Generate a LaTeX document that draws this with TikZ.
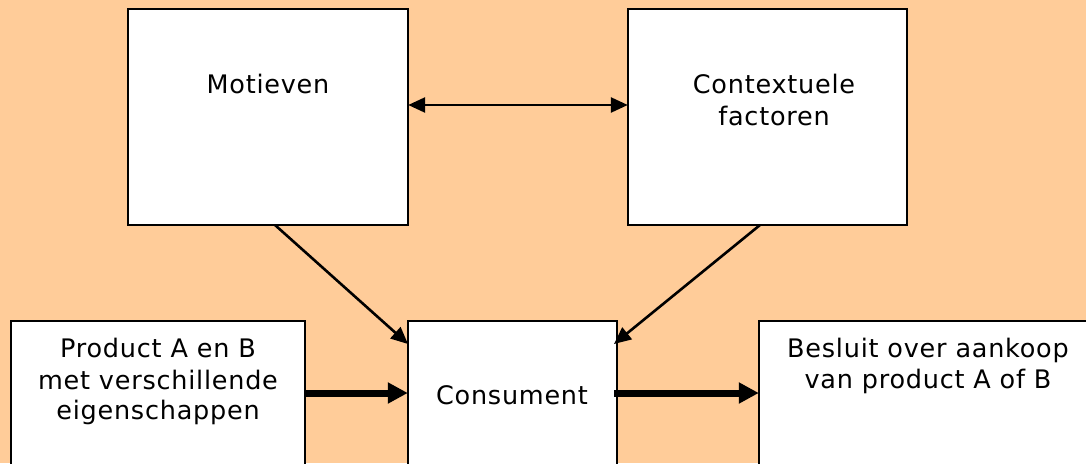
\documentclass[tikz,border=0pt]{standalone}
\usepackage{fontspec}
\setmainfont{DejaVu Sans}[LetterSpace=3]
\usetikzlibrary{arrows.meta}
\definecolor{peach}{HTML}{FFCC99}
\begin{document}
\begin{tikzpicture}[x=1pt,y=-1pt,
  box/.style={draw=black,fill=white,line width=2.6pt},
  lbl/.style={anchor=base,inner sep=0pt,font=\fontsize{25.5}{31}\selectfont,align=center},
  tip/.style={Triangle[length=17pt,width=15pt]},
  thin/.style={line width=2.6pt,-{Triangle[length=17pt,width=15pt]}},
  thick/.style={line width=7pt,-{Triangle[length=20pt,width=20pt]}}]
\fill[peach] (0,0) rectangle (1086,463);
\useasboundingbox (0,0) rectangle (1086,463);
% boxes
\draw[box] (128,9) rectangle (408,225);
\node[inner sep=0pt,minimum width=280pt,minimum height=216pt] (mot) at (268,117) {};
\draw[box] (628,9) rectangle (907,225);
\node[inner sep=0pt,minimum width=279pt,minimum height=216pt] (ctx) at (767.5,117) {};
\draw[box] (11,321) rectangle (305,480);
\node[inner sep=0pt,minimum width=294pt,minimum height=159pt] (prod) at (158,400.5) {};
\draw[box] (408,321) rectangle (617,480);
\node[inner sep=0pt,minimum width=209pt,minimum height=159pt] (cons) at (512.5,400.5) {};
\draw[box] (759,321) rectangle (1100,480);
\node[inner sep=0pt,minimum width=341pt,minimum height=159pt] (bes) at (929.5,400.5) {};
% texts
\node[lbl] (tmot) at (268,93) {Motieven};
\node[lbl] (tctx) at (774,93) {Contextuele};
\node[lbl] (tctx2) at (774,125) {factoren};
\node[lbl] (tprod1) at (158,357) {Product A en B};
\node[lbl] (tprod2) at (158,389) {met verschillende};
\node[lbl] (tprod3) at (158,419) {eigenschappen};
\node[lbl] (tcons) at (512,404) {Consument};
\node[lbl] (tbes1) at (928,357) {Besluit over aankoop};
\node[lbl] (tbes2) at (928,388) {van product A of B};
% connectors
\coordinate (d1s) at (275,225);
\coordinate (d1e) at (408,344);
\coordinate (d2s) at (760,225);
\coordinate (d2e) at (614,344);
\draw[line width=2.6pt,{Triangle[length=17pt,width=15pt]}-{Triangle[length=17pt,width=15pt]}] (mot.east |- 0,105) -- (ctx.west |- 0,105);
\draw[thin] (d1s) -- (d1e);
\draw[thin] (d2s) -- (d2e);
\draw[thick] (prod.east |- 0,393) -- (cons.west |- 0,393);
\draw[thick] (614,393) -- (bes.west |- 0,393);
\end{tikzpicture}
\end{document}
